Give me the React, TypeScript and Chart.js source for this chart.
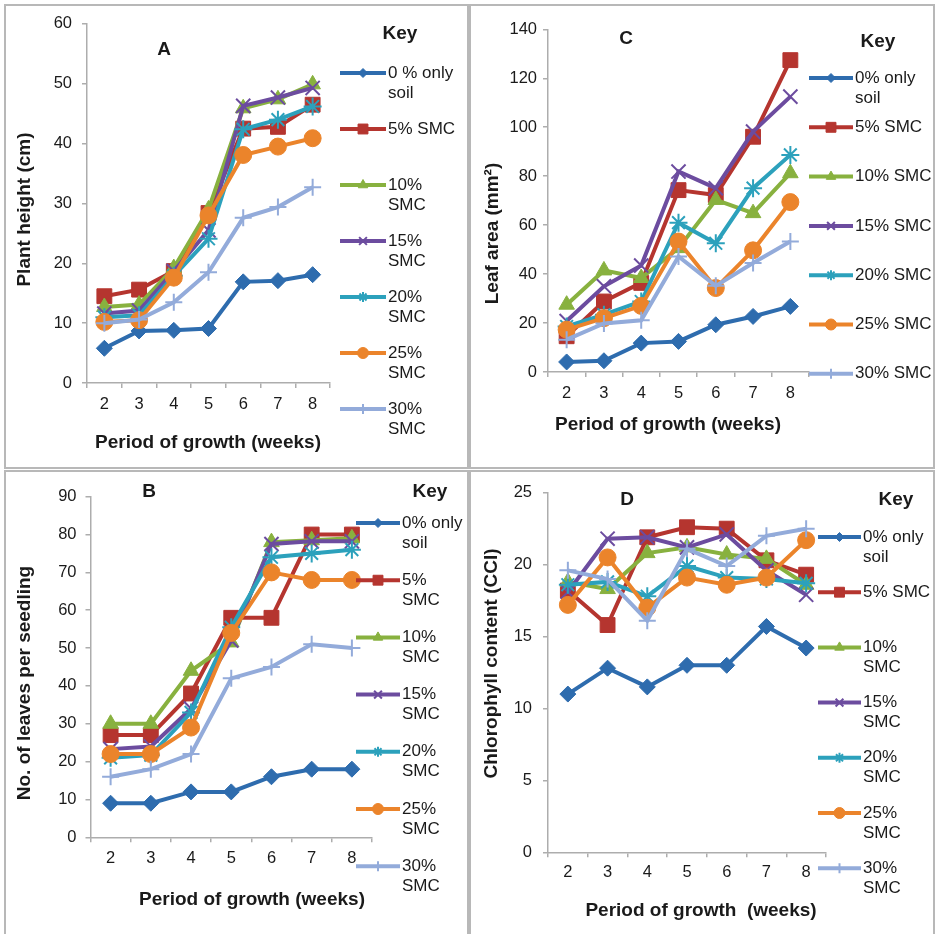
import React, { useEffect, useRef } from 'react';
import { Chart, registerables } from 'chart.js';
import { drawPoint } from 'chart.js/helpers';

Chart.register(...registerables);

const FONT = '"Liberation Sans", Arial, Helvetica, sans-serif';
const AXIS = '#ADADAD';
const TEXT = '#1A1A1A';
const FRAME = '#B8B8B8';

// ---------- shared data ----------
const WEEKS = ['2', '3', '4', '5', '6', '7', '8'];
const X_TITLE = 'Period of growth (weeks)';
const X_TITLE_D = 'Period of growth  (weeks)';

const SERIES_COLORS = ['#2E6CAE', '#B5352F', '#88B13F', '#6C4C9F', '#2CA1BC', '#EB842B', '#93ABDA'];
const SERIES_MARKERS = ['rectRot', 'rect', 'triangle', 'crossRot', 'star', 'circle', 'cross'];
const MARKER_RADIUS = [8, 10.5, 9, 10, 9, 8.5, 8.5];
const LEGEND_MARKER_RADIUS = [4.5, 7, 5.5, 5.5, 5, 5.5, 5];
const LINE_MARKERS = ['crossRot', 'star', 'cross'];

// ---------- Panel A: plant height ----------
const A_LABELS = [['0 % only', 'soil'], ['5% SMC'], ['10%', 'SMC'], ['15%', 'SMC'], ['20%', 'SMC'], ['25%', 'SMC'], ['30%', 'SMC']];
const A_0 = [5.8, 8.7, 8.8, 9.1, 16.9, 17.1, 18.1];
const A_5 = [14.5, 15.6, 18.7, 28.4, 42.5, 42.8, 46.5];
const A_10 = [12.7, 13.1, 19.2, 29.0, 45.9, 47.4, 49.9];
const A_15 = [11.6, 12.1, 18.7, 25.5, 46.3, 47.7, 49.3];
const A_20 = [11.0, 11.3, 17.9, 24.1, 42.4, 44.0, 46.2];
const A_25 = [10.2, 10.5, 17.6, 28.0, 38.1, 39.5, 40.9];
const A_30 = [10.0, 10.6, 13.5, 18.5, 27.6, 29.4, 32.7];

// ---------- Panel C: leaf area ----------
const C_LABELS = [['0% only', 'soil'], ['5% SMC'], ['10% SMC'], ['15% SMC'], ['20% SMC'], ['25% SMC'], ['30% SMC']];
const C_0 = [4.1, 4.6, 11.8, 12.5, 19.3, 22.7, 26.8];
const C_5 = [14.6, 28.8, 36.4, 74.3, 72.3, 96.1, 127.4];
const C_10 = [27.5, 41.5, 38.4, 50.6, 70.3, 64.9, 81.2];
const C_15 = [20.8, 35.0, 43.5, 81.9, 75.1, 98.2, 112.5];
const C_20 = [18.6, 23.4, 28.8, 61.0, 52.6, 75.1, 88.7];
const C_25 = [17.3, 22.0, 27.0, 53.3, 34.3, 49.7, 69.4];
const C_30 = [13.2, 19.8, 21.1, 47.2, 35.2, 44.5, 53.3];

// ---------- Panel B: leaves per seedling ----------
const B_LABELS = [['0% only', 'soil'], ['5%', 'SMC'], ['10%', 'SMC'], ['15%', 'SMC'], ['20%', 'SMC'], ['25%', 'SMC'], ['30%', 'SMC']];
const B_0 = [9, 9, 12, 12, 16, 18, 18];
const B_5 = [27, 27, 38, 58, 58, 80, 80];
const B_10 = [30, 30, 44, 51.5, 78, 78.5, 79];
const B_15 = [23.3, 24, 34, 52, 77.5, 78.2, 78.2];
const B_20 = [21, 21.7, 33, 55.5, 74, 75, 76];
const B_25 = [22, 22, 29, 54, 70, 68, 68];
const B_30 = [16, 18, 22, 42, 45, 51, 50];

// ---------- Panel D: chlorophyll ----------
const D_LABELS = [['0% only', 'soil'], ['5% SMC'], ['10%', 'SMC'], ['15%', 'SMC'], ['20%', 'SMC'], ['25%', 'SMC'], ['30%', 'SMC']];
const D_0 = [11.0, 12.8, 11.5, 13.0, 13.0, 15.7, 14.2];
const D_5 = [18.2, 15.8, 21.9, 22.6, 22.5, 20.3, 19.3];
const D_10 = [18.8, 18.3, 20.8, 21.2, 20.7, 20.4, 18.6];
const D_15 = [18.1, 21.8, 21.9, 21.2, 22.1, 19.6, 17.9];
const D_20 = [18.6, 18.8, 17.8, 19.9, 19.1, 19.0, 18.7];
const D_25 = [17.2, 20.5, 17.0, 19.1, 18.6, 19.1, 21.7];
const D_30 = [19.6, 19.0, 16.1, 21.1, 19.9, 22.0, 22.5];

// ---------- layout (page coordinates) ----------
const PANELS = [
  {
    id: 'A', letter: 'A', yTitle: 'Plant height (cm)', xTitle: X_TITLE,
    labels: A_LABELS, series: [A_0, A_5, A_10, A_15, A_20, A_25, A_30], yMax: 60, yStep: 10,
    cell: { x: 4, y: 4, w: 465, h: 465 },
    area: { l: 87, r: 330, t: 21, b: 383 },
    yTickPad: 10, xTickCenter: 21,
    letterPos: [164, 50], keyPos: [400, 34], yTitlePos: [25, 209.5], xTitlePos: [208, 443],
    legend: { x0: 340, x1: 386, tx: 388, y0: 73, dy: 56 },
  },
  {
    id: 'C', letter: 'C', yTitle: 'Leaf area (mm\u00B2)', xTitle: X_TITLE,
    labels: C_LABELS, series: [C_0, C_5, C_10, C_15, C_20, C_25, C_30], yMax: 140, yStep: 20,
    cell: { x: 469, y: 4, w: 466, h: 465 },
    area: { l: 548, r: 809, t: 29.3, b: 372 },
    yTickPad: 6, xTickCenter: 21,
    letterPos: [626, 39], keyPos: [878, 42], yTitlePos: [493, 233.5], xTitlePos: [668, 425],
    legend: { x0: 809, x1: 853, tx: 855, y0: 78, dy: 49.3 },
  },
  {
    id: 'B', letter: 'B', yTitle: 'No. of leaves per seedling', xTitle: X_TITLE,
    labels: B_LABELS, series: [B_0, B_5, B_10, B_15, B_20, B_25, B_30], yMax: 90, yStep: 10,
    cell: { x: 4, y: 470, w: 465, h: 470 },
    area: { l: 90.5, r: 372, t: 496.7, b: 837.3 },
    yTickPad: 9, xTickCenter: 21,
    letterPos: [149, 492], keyPos: [430, 492], yTitlePos: [25, 683], xTitlePos: [252, 900],
    legend: { x0: 356, x1: 400, tx: 402, y0: 523, dy: 57.2 },
  },
  {
    id: 'D', letter: 'D', yTitle: 'Chlorophyll content (CCI)', xTitle: X_TITLE_D,
    labels: D_LABELS, series: [D_0, D_5, D_10, D_15, D_20, D_25, D_30], yMax: 25, yStep: 5,
    cell: { x: 469, y: 470, w: 466, h: 470 },
    area: { l: 548, r: 826, t: 492.7, b: 852.3 },
    yTickPad: 11, xTickCenter: 20,
    letterPos: [627, 500], keyPos: [896, 500], yTitlePos: [492, 663.5], xTitlePos: [701, 911],
    legend: { x0: 818, x1: 861, tx: 863, y0: 537, dy: 55.2 },
  },
];

function Panel({ p }: { p: any }) {
  const ref = useRef<HTMLCanvasElement | null>(null);

  useEffect(() => {
    const canvas = ref.current;
    if (!canvas) return;
    const cx = p.cell.x;
    const cy = p.cell.y;
    const L = p.area.l - cx;
    const R = p.area.r - cx;
    const T = p.area.t - cy;
    const B = p.area.b - cy;
    const tickLen = 5;
    const tickFont = 16.5;
    const xPad = p.xTickCenter - tickLen - (tickFont * 1.2) / 2;

    const overlay = {
      id: 'overlay' + p.id,
      afterDraw(chart: any) {
        const ctx = chart.ctx as CanvasRenderingContext2D;
        ctx.save();
        ctx.fillStyle = TEXT;
        ctx.textBaseline = 'middle';
        ctx.textAlign = 'center';
        ctx.font = `bold 19px ${FONT}`;
        ctx.fillText(p.letter, p.letterPos[0] - cx, p.letterPos[1] - cy);
        ctx.fillText('Key', p.keyPos[0] - cx, p.keyPos[1] - cy);
        ctx.font = `bold 19px ${FONT}`;
        ctx.fillText(p.xTitle, p.xTitlePos[0] - cx, p.xTitlePos[1] - cy);
        ctx.save();
        ctx.translate(p.yTitlePos[0] - cx, p.yTitlePos[1] - cy);
        ctx.rotate(-Math.PI / 2);
        ctx.fillText(p.yTitle, 0, 0);
        ctx.restore();

        ctx.font = `17px ${FONT}`;
        ctx.textAlign = 'left';
        p.labels.forEach((lines: string[], i: number) => {
          const y = p.legend.y0 + i * p.legend.dy - cy;
          const x0 = p.legend.x0 - cx;
          const x1 = p.legend.x1 - cx;
          ctx.strokeStyle = SERIES_COLORS[i];
          ctx.lineWidth = 4;
          ctx.lineCap = 'butt';
          ctx.beginPath();
          ctx.moveTo(x0, y);
          ctx.lineTo(x1, y);
          ctx.stroke();
          const isLine = LINE_MARKERS.includes(SERIES_MARKERS[i]);
          ctx.fillStyle = SERIES_COLORS[i];
          ctx.lineWidth = isLine ? 2 : 1;
          drawPoint(ctx, {
            pointStyle: SERIES_MARKERS[i] as any,
            radius: LEGEND_MARKER_RADIUS[i],
            borderWidth: ctx.lineWidth,
            rotation: 0,
          } as any, (x0 + x1) / 2, y);
          ctx.fillStyle = TEXT;
          lines.forEach((t, j) => ctx.fillText(t, p.legend.tx - cx, y + j * 20));
        });
        ctx.restore();
      },
    };

    const chart = new Chart(canvas, {
      type: 'line',
      data: {
        labels: WEEKS,
        datasets: p.series.map((data: number[], i: number) => {
          const isLine = LINE_MARKERS.includes(SERIES_MARKERS[i]);
          return {
            label: p.labels[i].join(' '),
            data,
            borderColor: SERIES_COLORS[i],
            backgroundColor: SERIES_COLORS[i],
            borderWidth: 4,
            pointStyle: SERIES_MARKERS[i],
            pointRadius: MARKER_RADIUS[i],
            pointBorderWidth: isLine ? 2 : 1,
            pointBackgroundColor: SERIES_COLORS[i],
            pointBorderColor: SERIES_COLORS[i],
            tension: 0,
            order: 6 - i,
            clip: false as any,
          };
        }),
      },
      options: {
        responsive: false,
        animation: false,
        events: [],
        layout: { padding: { left: 0, top: T, right: p.cell.w - R, bottom: 0 } },
        plugins: {
          legend: { display: false },
          tooltip: { enabled: false },
          title: { display: false },
        },
        scales: {
          x: {
            type: 'category',
            offset: true,
            grid: {
              offset: true,
              drawOnChartArea: false,
              drawTicks: true,
              tickLength: tickLen,
              color: AXIS,
              lineWidth: 1.5,
            },
            border: { display: true, color: AXIS, width: 1.5 },
            ticks: {
              padding: xPad,
              maxRotation: 0,
              autoSkip: false,
              color: TEXT,
              font: { family: FONT, size: tickFont },
            },
            afterFit: (s: any) => { s.height = p.cell.h - B; },
          },
          y: {
            min: 0,
            max: p.yMax,
            grid: {
              drawOnChartArea: false,
              drawTicks: true,
              tickLength: tickLen,
              color: AXIS,
              lineWidth: 1.5,
            },
            border: { display: true, color: AXIS, width: 1.5 },
            ticks: {
              stepSize: p.yStep,
              padding: p.yTickPad,
              color: TEXT,
              font: { family: FONT, size: tickFont },
            },
            afterFit: (s: any) => { s.width = L; },
          },
        },
      } as any,
      plugins: [overlay],
    });
    return () => chart.destroy();
  }, [p]);

  return (
    <canvas
      ref={ref}
      width={p.cell.w}
      height={p.cell.h}
      style={{ position: 'absolute', left: p.cell.x, top: p.cell.y, width: p.cell.w, height: p.cell.h }}
    />
  );
}

export default function App() {
  return (
    <div style={{ position: 'fixed', left: 0, top: 0, width: 937, height: 934, background: '#fff', overflow: 'hidden' }}>
      {PANELS.map((p) => <Panel key={p.id} p={p} />)}
      {PANELS.map((p) => (
        <div
          key={'frame' + p.id}
          style={{
            position: 'absolute', left: p.cell.x, top: p.cell.y, width: p.cell.w, height: p.cell.h,
            border: `2px solid ${FRAME}`, boxSizing: 'border-box', pointerEvents: 'none',
          }}
        />
      ))}
    </div>
  );
}
